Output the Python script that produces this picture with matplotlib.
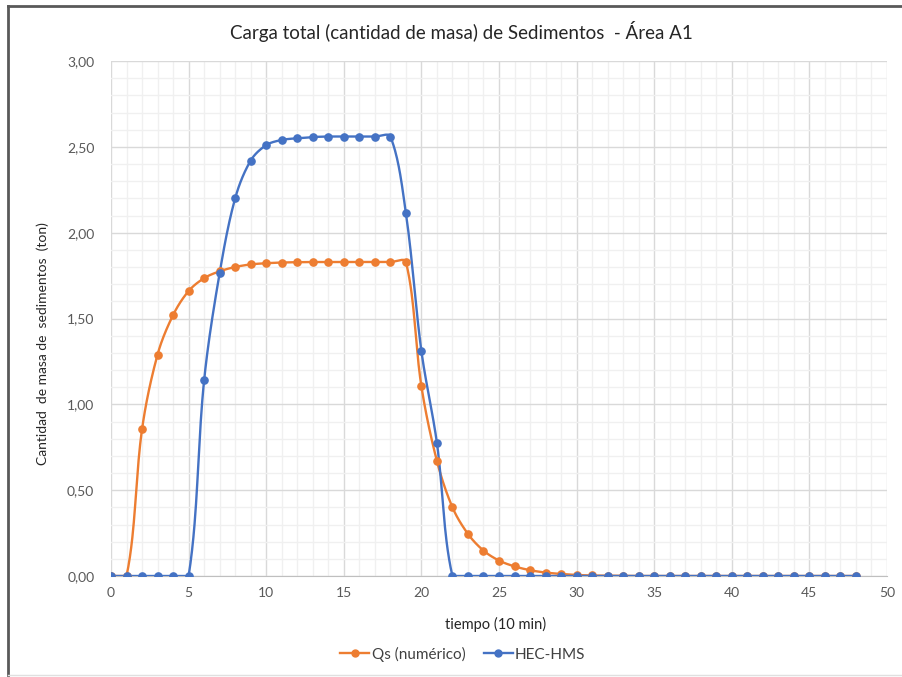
import numpy as np
import matplotlib
matplotlib.use("Agg")
import matplotlib.pyplot as plt
from matplotlib.ticker import MultipleLocator, FuncFormatter
from matplotlib.lines import Line2D

plt.rcParams['font.family'] = ['Lato', 'DejaVu Sans']

tiempo = list(range(0, 49))

qs_numerico = [0.0, 0.0, 0.855, 1.29, 1.52, 1.66, 1.735, 1.775, 1.80, 1.815,
               1.822, 1.826, 1.828, 1.829, 1.829, 1.829, 1.829, 1.829, 1.829, 1.83,
               1.105, 0.67, 0.40, 0.245, 0.148, 0.09, 0.056, 0.034, 0.02, 0.012,
               0.006, 0.003, 0.002, 0.001, 0.0, 0.0, 0.0, 0.0, 0.0, 0.0,
               0.0, 0.0, 0.0, 0.0, 0.0, 0.0, 0.0, 0.0, 0.0]

hec_hms = [0.0, 0.0, 0.0, 0.0, 0.0, 0.0, 1.14, 1.765, 2.20, 2.42,
           2.51, 2.54, 2.55, 2.557, 2.56, 2.56, 2.56, 2.56, 2.56, 2.115,
           1.31, 0.775, 0.0, 0.0, 0.0, 0.0, 0.0, 0.0, 0.0, 0.0,
           0.0, 0.0, 0.0, 0.0, 0.0, 0.0, 0.0, 0.0, 0.0, 0.0,
           0.0, 0.0, 0.0, 0.0, 0.0, 0.0, 0.0, 0.0, 0.0]

ORANGE = '#ED7D31'
BLUE = '#4472C4'
GRAY_TXT = '#595959'

# pixel size of one data unit, used so the smoothing works in screen space
PX_X = 776 / 50
PX_Y = 515 / 3.0


def smooth_line(x, y, n=30):
    # excel-like smoothed line: bezier, control length scaled by segment lengths
    pts = np.column_stack([np.asarray(x) * PX_X, np.asarray(y) * PX_Y]).astype(float)
    P = np.vstack([pts[0], pts, pts[-1]])
    t = np.linspace(0, 1, n)[:, None]
    segs = []
    for i in range(len(pts) - 1):
        p0, p1, p2, p3 = P[i], P[i + 1], P[i + 2], P[i + 3]
        d01 = np.linalg.norm(p1 - p0)
        d12 = np.linalg.norm(p2 - p1)
        d23 = np.linalg.norm(p3 - p2)
        k1 = d12 / (d01 + d12) / 3 if d01 + d12 > 0 else 0
        k2 = d12 / (d12 + d23) / 3 if d12 + d23 > 0 else 0
        c1 = p1 + (p2 - p0) * k1
        c2 = p2 - (p3 - p1) * k2
        seg = (1 - t)**3 * p1 + 3 * (1 - t)**2 * t * c1 + 3 * (1 - t) * t**2 * c2 + t**3 * p2
        segs.append(seg)
    out = np.vstack(segs)
    return out[:, 0] / PX_X, np.maximum(out[:, 1] / PX_Y, 0)


fig = plt.figure(figsize=(9.02, 6.77), dpi=100)
ax = fig.add_axes([111 / 902, 1 - 576 / 677, 776 / 902, 515 / 677])

for y, c in [(qs_numerico, ORANGE), (hec_hms, BLUE)]:
    sx, sy = smooth_line(tiempo, y)
    ax.plot(sx, sy, color=c, lw=1.7, zorder=3, solid_capstyle='round')
    ax.plot(tiempo, y, 'o', color=c, ms=5.2, zorder=4)

ax.set_xlim(0, 50)
ax.set_ylim(0, 3.0)
ax.xaxis.set_major_locator(MultipleLocator(5))
ax.xaxis.set_minor_locator(MultipleLocator(1))
ax.yaxis.set_major_locator(MultipleLocator(0.5))
ax.yaxis.set_minor_locator(MultipleLocator(0.1))
ax.yaxis.set_major_formatter(FuncFormatter(lambda v, p: f'{v:.2f}'.replace('.', ',')))
ax.grid(which='major', color='#d9d9d9', lw=1.0, zorder=0)
ax.grid(which='minor', color='#f0f0f0', lw=1.0, zorder=0)
ax.set_axisbelow(True)
for s in ['top', 'right', 'left']:
    ax.spines[s].set_visible(False)
ax.spines['bottom'].set_color('#bfbfbf')
ax.tick_params(which='both', length=0, colors=GRAY_TXT, labelsize=10)
ax.tick_params(axis='x', pad=8)
ax.tick_params(axis='y', pad=12)

ax.set_xlabel('tiempo (10 min)', fontsize=10.5, color='#262626', va='center')
ax.xaxis.set_label_coords((496 - 111) / 776, (576 - 624) / 515)
ax.set_ylabel('Cantidad  de masa de  sedimentos  (ton)', fontsize=10, color='#262626')
ax.yaxis.set_label_coords(-62 / 776, (576 - 344) / 515)

fig.text(461 / 902, 1 - 32 / 677,
         'Carga total (cantidad de masa) de Sedimentos  - Área A1',
         ha='center', va='center', fontsize=13.5, color='#262626')

handles = [Line2D([], [], color=ORANGE, lw=1.7, marker='o', ms=5),
           Line2D([], [], color=BLUE, lw=1.7, marker='o', ms=5)]
fig.legend(handles, ['Qs (numérico)', 'HEC-HMS'], loc='center',
           bbox_to_anchor=(463 / 902, 1 - 654 / 677), ncol=2, frameon=False,
           fontsize=11, handlelength=1.9, handletextpad=0.15, columnspacing=1.2,
           labelcolor='#404040')

# chart frame
fig.add_artist(Line2D([8 / 902, 8 / 902], [1 - 675 / 677, 1 - 6 / 677], color='#595959', lw=2))
fig.add_artist(Line2D([8 / 902, 1], [1 - 6 / 677, 1 - 6 / 677], color='#595959', lw=2))
fig.add_artist(Line2D([8 / 902, 1], [1 - 675 / 677, 1 - 675 / 677], color='#e0e0e0', lw=1))

fig.savefig('out.png', dpi=100)
